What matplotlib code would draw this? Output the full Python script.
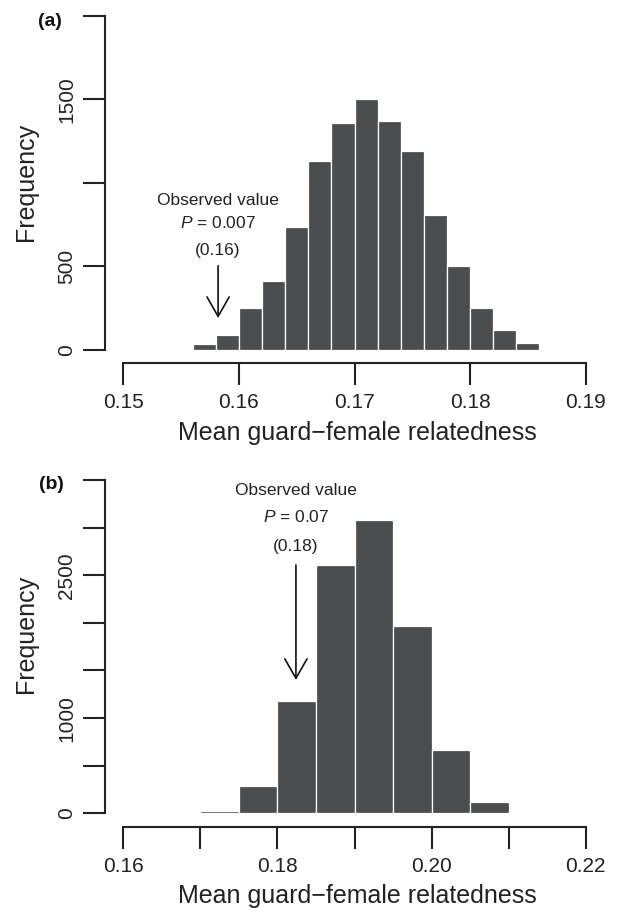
import matplotlib
matplotlib.use("Agg")
import matplotlib.pyplot as plt
import numpy as np

# ---- data ----
a_edges = [0.156, 0.158, 0.160, 0.162, 0.164, 0.166, 0.168, 0.170, 0.172,
           0.174, 0.176, 0.178, 0.180, 0.182, 0.184, 0.186]
a_counts = [34, 88, 250, 414, 734, 1132, 1360, 1504, 1372, 1190, 810, 504, 250, 118, 44]
a_xticks = [0.15, 0.16, 0.17, 0.18, 0.19]
a_xlabels = ["0.15", "0.16", "0.17", "0.18", "0.19"]
a_yticks = [0, 500, 1000, 1500, 2000]
a_ylabels = ["0", "500", "", "1500", ""]
a_obs = 0.1582
a_text = ["Observed value", r"$\mathit{P}$ = 0.007", "(0.16)"]

b_edges = [0.170, 0.175, 0.180, 0.185, 0.190, 0.195, 0.200, 0.205, 0.210]
b_counts = [25, 288, 1182, 2604, 3077, 1972, 660, 116]
b_xticks = [0.16, 0.17, 0.18, 0.19, 0.20, 0.21, 0.22]
b_xlabels = ["0.16", "", "0.18", "", "0.20", "", "0.22"]
b_yticks = [0, 500, 1000, 1500, 2000, 2500, 3000, 3500]
b_ylabels = ["0", "", "1000", "", "", "2500", "", ""]
b_obs = 0.1824
b_text = ["Observed value", r"$\mathit{P}$ = 0.07", "(0.18)"]

plt.rcParams['font.family'] = ['Liberation Sans', 'DejaVu Sans']
plt.rcParams['mathtext.fontset'] = 'custom'
plt.rcParams['mathtext.it'] = 'Liberation Sans:italic'
plt.rcParams['mathtext.rm'] = 'Liberation Sans'

W, H = 620, 913
fig = plt.figure(figsize=(W / 100, H / 100), dpi=100)

BAR = '#4c4d4f'
INK = '#222222'
XLABEL = "Mean guard\u2212female relatedness"


def panel(px, edges, counts, xticks, xlabels, yticks, ylabels, obs,
          texts, text_y, arrow_top, arrow_tip, tag, tag_xy, xoff, ylab_y):
    left, right, top, bottom = px
    ax = fig.add_axes([left / W, 1 - bottom / H, (right - left) / W,
                       (bottom - top) / H])
    e = np.array(edges)
    ax.bar(e[:-1], counts, width=np.diff(e), align='edge', color=BAR,
           edgecolor='white', linewidth=0.9)
    ax.set_xlim(xticks[0], xticks[-1])
    ax.set_ylim(yticks[0], yticks[-1])
    for s in ['top', 'right']:
        ax.spines[s].set_visible(False)
    ax.spines['left'].set_position(('outward', 13.2))
    ax.spines['bottom'].set_position(('outward', xoff))
    ax.spines['left'].set_bounds(yticks[0], yticks[-1])
    ax.spines['bottom'].set_bounds(xticks[0], xticks[-1])
    for s in ['left', 'bottom']:
        ax.spines[s].set_linewidth(1.5)
        ax.spines[s].set_color(INK)
    ax.set_xticks(xticks)
    ax.set_xticklabels(xlabels)
    ax.set_yticks(yticks)
    ax.set_yticklabels(ylabels, rotation=90, va='center')
    ax.tick_params(axis='both', length=15.5, width=1.5, color=INK,
                   labelsize=15, labelcolor=INK)
    ax.tick_params(axis='x', pad=6)
    ax.tick_params(axis='y', pad=5)
    ax.set_xlabel(XLABEL, fontsize=18, color=INK, va='center')
    ax.set_ylabel("Frequency", fontsize=18, color=INK, va='center')
    hpx = bottom - top
    wpx = right - left
    ax.xaxis.set_label_coords(0.5 + 3 / wpx, (bottom - (bottom + 83)) / hpx)
    ax.yaxis.set_label_coords((26 - left) / wpx, (bottom - ylab_y) / hpx)
    for t, y in zip(texts, text_y):
        ax.text(obs, y, t, ha='center', va='center', fontsize=12.5,
                color=INK, clip_on=False)
    ax.annotate('', xy=(obs, arrow_tip), xytext=(obs, arrow_top),
                arrowprops=dict(arrowstyle='->,head_length=1.4,head_width=0.8',
                                mutation_scale=10, color='#111111', lw=1.2,
                                shrinkA=0, shrinkB=0))
    fig.text(tag_xy[0] / W, 1 - tag_xy[1] / H, tag,
             fontsize=14, fontweight='bold', ha='center', va='center',
             color='#111111')
    return ax


panel((123.3, 585.7, 15.6, 350.0), a_edges, a_counts,
      a_xticks, a_xlabels, a_yticks, a_ylabels, a_obs, a_text,
      [897, 761, 598], 504, 191, '(a)', (50, 21), 9.6, 181.5)
panel((123.3, 585.7, 480.0, 813.3), b_edges, b_counts,
      b_xticks, b_xlabels, b_yticks, b_ylabels, b_obs, b_text,
      [3389, 3116, 2800], 2608, 1400, '(b)', (51.7, 484), 10.0, 633.5)

fig.savefig('out.png', dpi=100)
